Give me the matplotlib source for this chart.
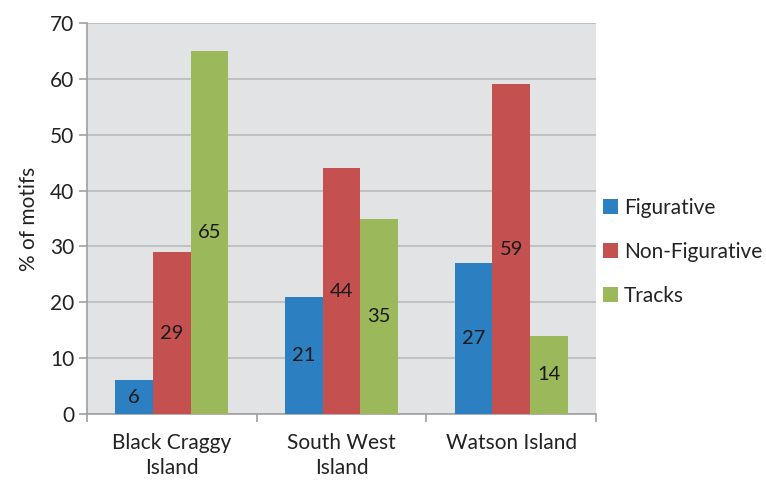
import matplotlib
matplotlib.use("Agg")
import matplotlib.pyplot as plt
import numpy as np

categories = ["Black Craggy\nIsland", "South West\nIsland", "Watson Island"]
series_names = ["Figurative", "Non-Figurative", "Tracks"]
figurative = [6, 21, 27]
non_figurative = [29, 44, 59]
tracks = [65, 35, 14]
yticks = [0, 10, 20, 30, 40, 50, 60, 70]

colors = ["#2c7fc1", "#c4504f", "#9bb85a"]

plt.rcParams['font.family'] = ['Lato', 'DejaVu Sans']

fig = plt.figure(figsize=(7.66, 4.8), dpi=100)
ax = fig.add_axes([87/766, 66/480, (596-87)/766, (414-23)/480])
ax.set_facecolor("#e1e3e5")

x = np.arange(len(categories))
w = 1/4.5
data = [figurative, non_figurative, tracks]
for i, (vals, name, c) in enumerate(zip(data, series_names, colors)):
    bars = ax.bar(x + (i-1)*w, vals, width=w, color=c, label=name, zorder=3)
    for b, v in zip(bars, vals):
        ax.text(b.get_x() + b.get_width()/2, v/2, str(v), ha="center", va="center",
                fontsize=14.5, color="#1a1a1a", zorder=4)

ax.set_xlim(-0.5, 2.5)
ax.set_ylim(0, 70)
ax.set_yticks(yticks)
ax.set_yticklabels([str(t) for t in yticks], fontsize=15, color="#222222")
ax.yaxis.grid(True, color="#b9bbbd", linewidth=1.2, zorder=0)
ax.set_xticks(x)
ax.set_xticklabels(categories, fontsize=15, color="#222222", linespacing=1.3)
ax.tick_params(axis="x", which="major", length=0, pad=14)
ax.set_xticks([-0.5, 0.5, 1.5, 2.5], minor=True)
ax.tick_params(axis="x", which="minor", length=6, color="#a0a0a0", width=1.2)
ax.tick_params(axis="y", length=6, color="#a0a0a0", width=1.2, pad=3)
for s in ["top", "right"]:
    ax.spines[s].set_visible(False)
for s in ["left", "bottom"]:
    ax.spines[s].set_color("#a0a0a0")
    ax.spines[s].set_linewidth(1.2)
ax.set_ylabel("% of motifs", fontsize=15, color="#222222", labelpad=8)

leg = fig.legend(loc="upper left", bbox_to_anchor=(603/766, 1-198/480), frameon=False,
                 fontsize=15, handlelength=0.7, handleheight=0.7, handletextpad=0.3,
                 labelspacing=1.15, borderpad=0, borderaxespad=0)
for t in leg.get_texts():
    t.set_color("#222222")

fig.savefig("out.png", dpi=100)
